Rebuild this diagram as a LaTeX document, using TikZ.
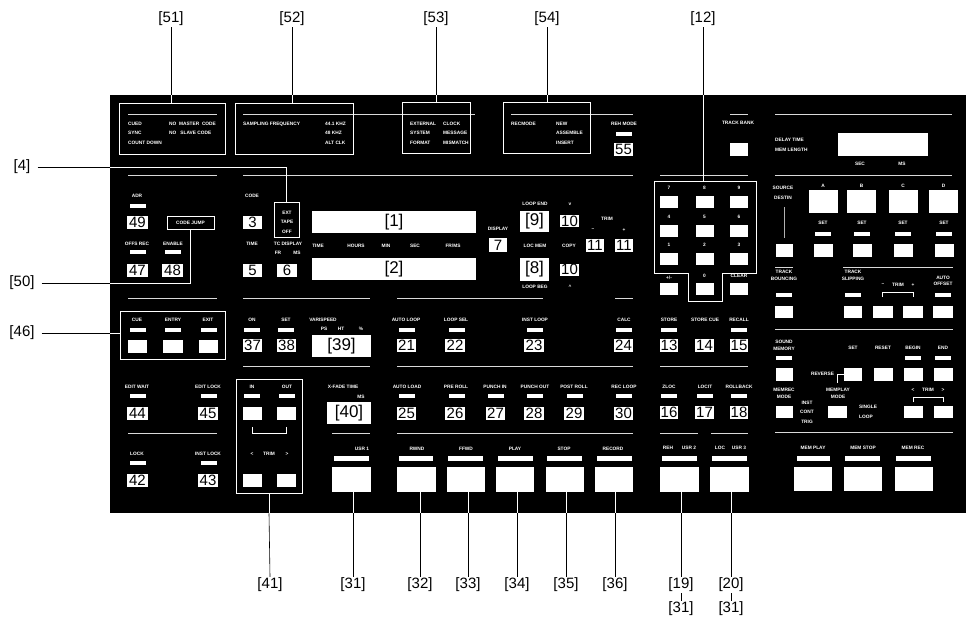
\documentclass[tikz,border=0pt]{standalone}
\usepackage{fontspec}
\setmainfont{Liberation Sans}
\usetikzlibrary{positioning}

\tikzset{
  txt/.style={text=white, font=\fontsize{4.8}{6.5}\selectfont\bfseries, inner sep=0pt, align=center},
  led/.style={fill=white, minimum width=16pt, minimum height=4pt, inner sep=0pt},
  btn/.style={fill=white, minimum width=19pt, minimum height=13pt, inner sep=0pt},
  bigbtn/.style={fill=white, minimum width=38pt, minimum height=25pt, inner sep=0pt},
  bar/.style={fill=white, minimum width=35pt, minimum height=5pt, inner sep=0pt},
  num/.style={fill=white, text=black, font=\fontsize{15}{15}\selectfont, minimum width=20pt, minimum height=13pt, inner sep=0pt},
  disp/.style={fill=white, text=black, font=\fontsize{17}{17}\selectfont, inner sep=0pt},
  frame/.style={draw=white, line width=0.9pt, inner sep=0pt},
  sep/.style={draw=white!85!black, line width=0.8pt},
  callout/.style={font=\fontsize{15}{15}\selectfont, inner sep=1pt},
  lead/.style={draw=black, line width=0.6pt},
  leadin/.style={draw=white, line width=0.6pt},
}

\begin{document}
\begin{tikzpicture}[x=1pt, y=-1pt]
        \useasboundingbox (0,0) rectangle (966,622);
        \node[fill=black, minimum width=856pt, minimum height=418pt, inner sep=0pt, anchor=north west] (panel) at (110,95) {};

        % separators
        \draw[sep] (128,114) -- (217,114);
        \draw[sep] (243,114) -- (475,114);
        \draw[sep] (511,114) -- (633,114);
        \draw[sep] (730,114) -- (748,114);
        \draw[sep] (775,114) -- (952,114);
        \draw[sep] (128,175) -- (217,175);
        \draw[sep] (243,175) -- (633,175);
        \draw[sep] (660,175) -- (748,175);
        \draw[sep] (775,175) -- (952,175);
        \draw[sep] (775,267) -- (793,267);
        \draw[sep] (843,267) -- (953,267);
        \draw[sep] (128,298) -- (217,298);
        \draw[sep] (243,298) -- (370,298);
        \draw[sep] (397,298) -- (543,298);
        \draw[sep] (615,298) -- (633,298);
        \draw[sep] (775,329) -- (953,329);
        \draw[sep] (243,366) -- (370,366);
        \draw[sep] (397,366) -- (633,366);
        \draw[sep] (660,366) -- (748,366);
        \draw[sep] (128,433) -- (217,433);
        \draw[sep] (332,433) -- (370,433);
        \draw[sep] (397,433) -- (633,433);
        \draw[sep] (660,433) -- (698,433);
        \draw[sep] (711,433) -- (748,433);
        \draw[sep] (775,432) -- (953,432);

        % status boxes
        \node[frame, minimum width=106pt, minimum height=51pt] (b51) at (172,128.5) {};
        \node[txt, anchor=west] (cued) at (128,124) {CUED};
        \node[txt, anchor=west] (nomaster) at (169,124) {NO\ \ MASTER\ \ CODE};
        \node[txt, anchor=west] (sync) at (128,133) {SYNC};
        \node[txt, anchor=west] (noslave) at (169,133) {NO\ \ \ SLAVE\ CODE};
        \node[txt, anchor=west] (count) at (128,143) {COUNT DOWN};

        \node[frame, minimum width=118pt, minimum height=51pt] (b52) at (294,128.5) {};
        \node[txt, anchor=west] (sampling) at (243,124) {SAMPLING FREQUENCY};
        \node[txt, anchor=west] (f441) at (325,124) {44.1 KHZ};
        \node[txt, anchor=west] (f48) at (325,133) {48 KHZ};
        \node[txt, anchor=west] (altclk) at (325,143) {ALT CLK};

        \node[frame, minimum width=68pt, minimum height=51pt] (b53) at (436,127.5) {};
        \node[txt, anchor=west] (external) at (410,124) {EXTERNAL};
        \node[txt, anchor=west] (clock) at (443,124) {CLOCK};
        \node[txt, anchor=west] (system) at (410,133) {SYSTEM};
        \node[txt, anchor=west] (message) at (443,133) {MESSAGE};
        \node[txt, anchor=west] (format) at (410,143) {FORMAT};
        \node[txt, anchor=west] (mismatch) at (443,143) {MISMATCH};

        \node[frame, minimum width=87pt, minimum height=51pt] (b54) at (546.5,127.5) {};
        \node[txt, anchor=west] (recmode) at (511,124) {RECMODE};
        \node[txt, anchor=west] (new) at (556,124) {NEW};
        \node[txt, anchor=west] (assemble) at (556,133) {ASSEMBLE};
        \node[txt, anchor=west] (insert) at (556,143) {INSERT};

        \node[txt] (rehmode) at (624,124) {REH MODE};
        \node[led] (rehled) at (624,134) {};
        \node[num, minimum width=19pt] (n55) at (623.5,149.5) {55};

        \node[txt] (trackbank) at (738,123) {TRACK BANK};
        \node[btn, minimum width=18pt] (tbbtn) at (739,149.5) {};
        \node[txt, anchor=west] (delay) at (775,140) {DELAY TIME};
        \node[txt, anchor=west] (memlen) at (775,150) {MEM LENGTH};
        \node[fill=white, minimum width=90pt, minimum height=23pt, inner sep=0pt] (delaydisp) at (883,144.5) {};
        \node[txt] (dsec) at (860,164) {SEC};
        \node[txt] (dms) at (902,164) {MS};

        % code / time code
        \node[txt] (adr) at (137,196) {ADR};
        \node[led] (adrled) at (138,206) {};
        \node[num, minimum width=21pt] (n49) at (137.5,222.5) {49};
        \node[frame, txt, minimum width=47pt, minimum height=13pt] (cj) at (190.5,222.5) {CODE JUMP};
        \node[txt] (offsrec) at (137,244) {OFFS REC};
        \node[led] (offsled) at (138,252) {};
        \node[num, minimum width=21pt] (n47) at (137.5,270) {47};
        \node[txt] (enable) at (173,244) {ENABLE};
        \node[led] (enled) at (173,252) {};
        \node[num, minimum width=21pt] (n48) at (172.5,270) {48};

        \node[txt] (code) at (252,196) {CODE};
        \node[num, minimum width=19pt] (n3) at (252.5,222.5) {3};
        \node[frame, minimum width=25pt, minimum height=35pt] (extbox) at (286.5,219.5) {};
        \node[txt] (ext) at (287,213) {EXT};
        \node[txt] (tape) at (287,222) {TAPE};
        \node[txt] (off) at (287,232) {OFF};
        \node[txt] (time) at (252,244) {TIME};
        \node[num, minimum width=19pt] (n5) at (252.5,270) {5};
        \node[txt] (tcdisp) at (288,244) {TC DISPLAY};
        \node[txt] (fr) at (278,253) {FR};
        \node[txt] (ms) at (297,253) {MS};
        \node[num] (n6) at (287,270) {6};

        \node[disp, minimum width=164pt, minimum height=22pt] (d1) at (394,222) {[1]};
        \node[txt] (htime) at (318,246) {TIME};
        \node[txt] (hours) at (356,246) {HOURS};
        \node[txt] (hmin) at (386,246) {MIN};
        \node[txt] (hsec) at (415,246) {SEC};
        \node[txt] (hfr) at (453,246) {FR/MS};
        \node[disp, minimum width=164pt, minimum height=22pt] (d2) at (394,269) {[2]};

        \node[txt] (display) at (498,229) {DISPLAY};
        \node[num, minimum width=18pt, minimum height=14pt] (n7) at (498,245) {7};
        \node[txt] (loopend) at (535,204) {LOOP END};
        \node[disp, minimum width=29pt, minimum height=21pt] (d9) at (534.5,221.5) {[9]};
        \node[txt] (up) at (570,204) {v};
        \node[num, minimum width=19pt, minimum height=12pt] (n10a) at (569.5,221) {10};
        \node[txt] (trim1) at (607,219) {TRIM};
        \node[txt] (trim1m) at (593,230) {–};
        \node[txt] (trim1p) at (624,230) {+};
        \node[txt] (locmem) at (535,246) {LOC MEM};
        \node[txt] (copy) at (569,246) {COPY};
        \node[num, minimum width=18pt] (n11a) at (595,245.5) {11};
        \node[num, minimum width=18pt] (n11b) at (624,245.5) {11};
        \node[disp, minimum width=29pt, minimum height=23pt] (d8) at (534.5,269.5) {[8]};
        \node[num, minimum width=19pt, minimum height=12pt] (n10b) at (569.5,269.5) {10};
        \node[txt] (loopbeg) at (535,287) {LOOP BEG};
        \node[txt] (down) at (570,287) {\textasciicircum};

        % keypad
        \coordinate (kp) at (703,181);
        \draw[draw=white, line width=0.9pt] (654,181) -- (756,181) -- (756,273) -- (722,273) -- (722,301)
            -- (688,301) -- (688,273) -- (654,273) -- cycle;
        \node[txt] (k7t) at (669,188) {7};
        \node[txt] (k8t) at (704.5,188) {8};
        \node[txt] (k9t) at (739,188) {9};
        \node[btn, minimum width=18pt, minimum height=12pt] (k7) at (669,202) {};
        \node[btn, minimum width=18pt, minimum height=12pt] (k8) at (704.5,202) {};
        \node[btn, minimum width=18pt, minimum height=12pt] (k9) at (739,202) {};
        \node[txt] (k4t) at (669,217) {4};
        \node[txt] (k5t) at (704.5,217) {5};
        \node[txt] (k6t) at (739,217) {6};
        \node[btn, minimum width=18pt, minimum height=12pt] (k4) at (669,230.5) {};
        \node[btn, minimum width=18pt, minimum height=12pt] (k5) at (704.5,230.5) {};
        \node[btn, minimum width=18pt, minimum height=12pt] (k6) at (739,230.5) {};
        \node[txt] (k1t) at (669,245) {1};
        \node[txt] (k2t) at (704.5,245) {2};
        \node[txt] (k3t) at (739,245) {3};
        \node[btn, minimum width=18pt, minimum height=12pt] (k1) at (669,258.5) {};
        \node[btn, minimum width=18pt, minimum height=12pt] (k2) at (704.5,258.5) {};
        \node[btn, minimum width=18pt, minimum height=12pt] (k3) at (739,258.5) {};
        \node[txt] (kpmt) at (669,278) {+/-};
        \node[txt] (k0t) at (704.5,276) {0};
        \node[txt] (kclt) at (739,276) {CLEAR};
        \node[btn, minimum width=18pt, minimum height=12pt] (kpm) at (669,289) {};
        \node[btn, minimum width=18pt, minimum height=12pt] (k0) at (704.5,289) {};
        \node[btn, minimum width=18pt, minimum height=12pt] (kcl) at (739,289) {};

        % source / destination
        \node[txt] (source) at (783,188) {SOURCE};
        \node[txt] (destin) at (783,198) {DESTIN};
        \node[btn, minimum width=17pt] (srcbtn) at (784.5,250.5) {};
        \draw[draw=white!70!black, line width=0.8pt, shorten <=7pt, shorten >=6pt] (destin.south -| srcbtn) -- (srcbtn.north);
        \node[txt] (ta) at (823,186) {A};
        \node[txt] (tb) at (861.5,186) {B};
        \node[txt] (tc) at (903,186) {C};
        \node[txt] (td) at (943.5,186) {D};
        \node[btn, minimum width=29pt, minimum height=23pt] (ba) at (823,201.5) {};
        \node[btn, minimum width=29pt, minimum height=23pt] (bb) at (861.5,201.5) {};
        \node[btn, minimum width=29pt, minimum height=23pt] (bc) at (903,201.5) {};
        \node[btn, minimum width=29pt, minimum height=23pt] (bd) at (943.5,201.5) {};
        \node[txt] (seta) at (823,223) {SET};
        \node[txt] (setb) at (862,223) {SET};
        \node[txt] (setc) at (903,223) {SET};
        \node[txt] (setd) at (944,223) {SET};
        \node[led] (leda) at (823,234) {};
        \node[led] (ledb) at (862,234) {};
        \node[led] (ledc) at (903,234) {};
        \node[led] (ledd) at (944,234) {};
        \node[btn] (bseta) at (823,250.5) {};
        \node[btn] (bsetb) at (862,250.5) {};
        \node[btn] (bsetc) at (903,250.5) {};
        \node[btn] (bsetd) at (944,250.5) {};

        % track bouncing / slipping
        \node[txt] (bouncing) at (784,275.5) {TRACK\\BOUNCING};
        \node[led] (bncled) at (784,295) {};
        \node[btn, minimum width=18pt, minimum height=12pt] (bncbtn) at (784,312) {};
        \node[txt] (slipping) at (853,275.5) {TRACK\\SLIPPING};
        \node[led] (slpled) at (853,295) {};
        \node[btn, minimum width=18pt, minimum height=12pt] (slpbtn) at (853,312) {};
        \node[txt] (trim2m) at (883,285) {–};
        \node[txt] (trim2) at (898,285) {TRIM};
        \node[txt] (trim2p) at (913,285) {+};
        \draw[draw=white, line width=0.6pt] (882,297) -- (882,292) -- (913,292) -- (913,297);
        \node[btn, minimum width=20pt, minimum height=12pt] (trim2mb) at (883,312) {};
        \node[btn, minimum width=20pt, minimum height=12pt] (trim2pb) at (913,312) {};
        \node[txt] (autooff) at (943,281) {AUTO\\OFFSET};
        \node[led] (aoled) at (943,295) {};
        \node[btn, minimum width=20pt, minimum height=12pt] (aobtn) at (943,312) {};

        % sound memory
        \node[txt] (soundmem) at (784,345.5) {SOUND\\MEMORY};
        \node[led] (smled) at (784,357.5) {};
        \node[btn, minimum width=17pt] (smbtn) at (784.5,374.5) {};
        \node[txt] (mset) at (853,348) {SET};
        \node[btn, minimum width=18pt] (msetb) at (853,374.5) {};
        \node[txt] (mreset) at (883,348) {RESET};
        \node[btn, minimum width=19pt] (mresetb) at (883.5,374.5) {};
        \node[txt] (mbegin) at (913,348) {BEGIN};
        \node[led] (mbegled) at (913,357.5) {};
        \node[btn, minimum width=19pt] (mbeginb) at (913.5,374.5) {};
        \node[txt] (mend) at (943,348) {END};
        \node[led] (mendled) at (943,357.5) {};
        \node[btn, minimum width=19pt] (mendb) at (943.5,374.5) {};
        \node[txt] (reverse) at (822.5,374) {REVERSE};
        \draw[draw=white, line width=0.6pt] (msetb.west |- reverse) -- (837,374) -- (837,383);
        \node[txt] (memrec) at (784,393.5) {MEMREC\\MODE};
        \node[btn, minimum width=17pt, minimum height=12pt] (memrecb) at (784.5,412) {};
        \node[txt] (inst) at (807,403) {INST};
        \node[txt] (cont) at (807,412) {CONT};
        \node[txt] (trig) at (807,422) {TRIG};
        \node[txt] (memplay) at (838,393.5) {MEMPLAY\\MODE};
        \node[btn, minimum width=19pt, minimum height=12pt] (memplayb) at (837.5,412) {};
        \node[txt, anchor=west] (single) at (859,407) {SINGLE};
        \node[txt, anchor=west] (loop) at (859,417) {LOOP};
        \node[txt] (trim3m) at (913,390) {<};
        \node[txt] (trim3) at (928,390) {TRIM};
        \node[txt] (trim3p) at (943,390) {>};
        \draw[draw=white, line width=0.6pt] (913,402) -- (913,397) -- (943,397) -- (943,402);
        \node[btn, minimum height=12pt] (trim3mb) at (913.5,412) {};
        \node[btn, minimum height=12pt] (trim3pb) at (943.5,412) {};

        \node[txt] (memplayt) at (813,448) {MEM PLAY};
        \node[bar, minimum width=33pt] (memplaybar) at (813.5,458.5) {};
        \node[bigbtn, minimum height=24pt] (memplaybtn) at (813,479) {};
        \node[txt] (memstopt) at (863,448) {MEM STOP};
        \node[bar] (memstopbar) at (862.5,458.5) {};
        \node[bigbtn, minimum height=24pt] (memstopbtn) at (863,479) {};
        \node[txt] (memrect) at (913,448) {MEM REC};
        \node[bar] (memrecbar) at (913,458.5) {};
        \node[bigbtn, minimum height=24pt] (memrecbtn) at (914,479) {};

        % locate
        \node[txt] (store) at (669,320) {STORE};
        \node[led] (storeled) at (669,330) {};
        \node[num, minimum width=18pt] (n13) at (669,345.5) {13};
        \node[txt] (storecue) at (705,320) {STORE CUE};
        \node[num, minimum width=19pt] (n14) at (704.5,345.5) {14};
        \node[txt] (recall) at (739,320) {RECALL};
        \node[led] (recled) at (739,330) {};
        \node[num, minimum width=18pt] (n15) at (739,345.5) {15};
        \node[txt] (zloc) at (669,387) {ZLOC};
        \node[led] (zlocled) at (669,396) {};
        \node[num, minimum width=18pt] (n16) at (669,412.5) {16};
        \node[txt] (locit) at (705,387) {LOCIT};
        \node[led] (locitled) at (705,396) {};
        \node[num, minimum width=19pt] (n17) at (704.5,412.5) {17};
        \node[txt] (rollback) at (739,387) {ROLLBACK};
        \node[led] (rollled) at (739,396) {};
        \node[num, minimum width=18pt] (n18) at (739,412.5) {18};
        \node[txt] (reh) at (668,448) {REH};
        \node[txt] (usr2) at (689,448) {USR 2};
        \node[bar] (rehbar) at (679.5,458.5) {};
        \node[bigbtn, minimum width=39pt] (rehbtn) at (679.5,479.5) {};
        \node[txt] (loc) at (720,448) {LOC};
        \node[txt] (usr3) at (739,448) {USR 3};
        \node[bar] (locbar) at (729.5,458.5) {};
        \node[bigbtn, minimum width=39pt] (locbtn) at (729.5,479.5) {};

        % loop / punch
        \node[txt] (autoloop) at (406,320) {AUTO LOOP};
        \node[led] (alled) at (406.5,330) {};
        \node[num, minimum width=19pt] (n21) at (406.5,345.5) {21};
        \node[txt] (loopsel) at (456,320) {LOOP SEL};
        \node[led] (lsled) at (456.5,330) {};
        \node[num] (n22) at (455,345.5) {22};
        \node[txt] (instloop) at (535,320) {INST LOOP};
        \node[led] (illed) at (535,330) {};
        \node[num] (n23) at (534,345.5) {23};
        \node[txt] (calc) at (624,320) {CALC};
        \node[led] (calcled) at (624,330) {};
        \node[num, minimum width=19pt] (n24) at (623.5,345.5) {24};
        \node[txt] (autoload) at (407,387) {AUTO LOAD};
        \node[led] (aldled) at (406.5,396) {};
        \node[num, minimum width=19pt] (n25) at (406.5,413.5) {25};
        \node[txt] (preroll) at (456,387) {PRE ROLL};
        \node[led] (prled) at (456.5,396) {};
        \node[num] (n26) at (455,413.5) {26};
        \node[txt] (punchin) at (495,387) {PUNCH IN};
        \node[led] (piled) at (495.5,396) {};
        \node[num, minimum width=19pt] (n27) at (495.5,413.5) {27};
        \node[txt] (punchout) at (535,387) {PUNCH OUT};
        \node[led] (poled) at (535,396) {};
        \node[num] (n28) at (534,413.5) {28};
        \node[txt] (postroll) at (574,387) {POST ROLL};
        \node[led] (psled) at (574.5,396) {};
        \node[num] (n29) at (574,413.5) {29};
        \node[txt] (recloop) at (624,387) {REC LOOP};
        \node[led] (rlled) at (624,396) {};
        \node[num, minimum width=19pt] (n30) at (623.5,413.5) {30};

        % transport
        \node[txt] (rwnd) at (417,449) {RWND};
        \node[bar, minimum width=34pt] (rwndbar) at (416,458.5) {};
        \node[bigbtn, minimum width=39pt] (rwndbtn) at (416.5,479.5) {};
        \node[txt] (ffwd) at (466,449) {FFWD};
        \node[bar] (ffwdbar) at (465.5,458.5) {};
        \node[bigbtn] (ffwdbtn) at (466,479.5) {};
        \node[txt] (play) at (515,449) {PLAY};
        \node[bar] (playbar) at (515,458.5) {};
        \node[bigbtn] (playbtn) at (515,479.5) {};
        \node[txt] (stop) at (564,449) {STOP};
        \node[bar] (stopbar) at (564.5,458.5) {};
        \node[bigbtn] (stopbtn) at (564.5,479.5) {};
        \node[txt] (record) at (613,449) {RECORD};
        \node[bar] (recordbar) at (614,458.5) {};
        \node[bigbtn] (recordbtn) at (614,479.5) {};

        % edit section
        \node[frame, minimum width=105pt, minimum height=48pt] (cuebox) at (172.5,335) {};
        \node[txt] (cue) at (137,320) {CUE};
        \node[led] (cueled) at (138,330) {};
        \node[btn] (cuebtn) at (137.5,346.5) {};
        \node[txt] (entry) at (173,320) {ENTRY};
        \node[led] (entled) at (173,330) {};
        \node[btn, minimum width=20pt] (entbtn) at (173,346.5) {};
        \node[txt] (exit) at (208,320) {EXIT};
        \node[led] (exled) at (208.5,330) {};
        \node[btn] (exbtn) at (208.5,346.5) {};
        \node[txt] (vson) at (252,320) {ON};
        \node[led] (vsonled) at (252,330) {};
        \node[num, minimum width=19pt] (n37) at (252.5,345.5) {37};
        \node[txt] (vsset) at (286,320) {SET};
        \node[led] (vssetled) at (286,330) {};
        \node[num, minimum width=19pt] (n38) at (286.5,345.5) {38};
        \node[txt] (varispeed) at (323,320) {VARISPEED};
        \node[txt] (ps) at (324,329) {PS};
        \node[txt] (ht) at (341,329) {HT};
        \node[txt] (pct) at (361,329) {\%};
        \node[disp, minimum width=59pt, minimum height=22pt] (d39) at (341.5,346) {[39]};

        \node[txt] (editwait) at (137,387) {EDIT WAIT};
        \node[led] (ewled) at (138,396) {};
        \node[num, minimum width=21pt] (n44) at (137.5,413.5) {44};
        \node[txt] (editlock) at (208,387) {EDIT LOCK};
        \node[led] (elled) at (208.5,396) {};
        \node[num] (n45) at (208,413.5) {45};
        \node[txt] (lock) at (137,454) {LOCK};
        \node[led] (lkled) at (138,463) {};
        \node[num, minimum width=21pt] (n42) at (137.5,480) {42};
        \node[txt] (instlock) at (208,454) {INST LOCK};
        \node[led] (ilkled) at (208.5,463) {};
        \node[num] (n43) at (208,480) {43};

        \node[frame, minimum width=66pt, minimum height=114pt] (iobox) at (269,436) {};
        \node[txt] (in) at (252,387) {IN};
        \node[led] (inled) at (252,396) {};
        \node[btn] (inbtn) at (252.5,413.5) {};
        \node[txt] (out) at (287,387) {OUT};
        \node[led] (outled) at (287,396) {};
        \node[btn] (outbtn) at (286.5,413.5) {};
        \draw[draw=white, line width=0.6pt] (252,427) -- (252,433) -- (286,433) -- (286,427);
        \node[txt] (trim4m) at (252,454) {<};
        \node[txt] (trim4) at (269,454) {TRIM};
        \node[txt] (trim4p) at (287,454) {>};
        \node[btn] (trim4mb) at (252.5,480) {};
        \node[btn] (trim4pb) at (286.5,480) {};

        \node[txt] (xfade) at (343,387) {X-FADE TIME};
        \node[txt] (xfms) at (361,397) {MS};
        \node[disp, minimum width=44pt, minimum height=22pt] (d40) at (349,413) {[40]};
        \node[txt] (usr1) at (362,449) {USR 1};
        \node[bar] (usr1bar) at (351.5,458.5) {};
        \node[bigbtn, minimum width=39pt] (usr1btn) at (351.5,479.5) {};

        % callouts
        \node[callout] (l51) at (171,19) {[51]};
        \node[callout] (l52) at (292,19) {[52]};
        \node[callout] (l53) at (436,19) {[53]};
        \node[callout] (l54) at (547,19) {[54]};
        \node[callout] (l12) at (703,19) {[12]};
        \node[callout] (l4) at (22,167) {[4]};
        \node[callout] (l50) at (22,283) {[50]};
        \node[callout] (l46) at (22,333) {[46]};
        \node[callout] (l41) at (270,585) {[41]};
        \node[callout] (l31) at (353,585) {[31]};
        \node[callout] (l32) at (420,585) {[32]};
        \node[callout] (l33) at (468,585) {[33]};
        \node[callout] (l34) at (517,585) {[34]};
        \node[callout] (l35) at (566,585) {[35]};
        \node[callout] (l36) at (615,585) {[36]};
        \node[callout] (l19) at (681,585) {[19]};
        \node[callout] (l20) at (731,585) {[20]};
        \node[callout] (l19b) at (681,609) {[31]};
        \node[callout] (l20b) at (731,609) {[31]};

        \draw[lead] (l51) -- (l51 |- panel.north);
        \draw[leadin] (l51 |- panel.north) -- (l51 |- b51.north);
        \draw[lead] (l52) -- (l52 |- panel.north);
        \draw[leadin] (l52 |- panel.north) -- (l52 |- b52.north);
        \draw[lead] (l53) -- (l53 |- panel.north);
        \draw[leadin] (l53 |- panel.north) -- (l53 |- b53.north);
        \draw[lead] (l54) -- (l54 |- panel.north);
        \draw[leadin] (l54 |- panel.north) -- (l54 |- b54.north);
        \draw[lead] (l12) -- (l12 |- panel.north);
        \draw[leadin] (l12 |- panel.north) -- (kp);

        \draw[lead] ([xshift=6pt]l4.east) -- (l4.east -| panel.west);
        \draw[leadin] (l4.east -| panel.west) -| (extbox.north);
        \draw[lead] ([xshift=6pt]l50.east) -- (l50.east -| panel.west);
        \draw[leadin] (l50.east -| panel.west) -| (cj.south);
        \draw[lead] ([xshift=6pt]l46.east) -- (l46.east -| panel.west);
        \draw[leadin] (l46.east -| panel.west) -- (l46.east -| cuebox.west);

        \draw[leadin] (iobox.south) -- (iobox.south |- panel.south);
        \draw[lead] (iobox.south |- panel.south) -- (l41.north);
        \draw[leadin] (l31 |- usr1btn.south) -- (l31 |- panel.south);
        \draw[lead] (l31 |- panel.south) -- (l31.north);
        \draw[leadin] (l32 |- rwndbtn.south) -- (l32 |- panel.south);
        \draw[lead] (l32 |- panel.south) -- (l32.north);
        \draw[leadin] (l33 |- ffwdbtn.south) -- (l33 |- panel.south);
        \draw[lead] (l33 |- panel.south) -- (l33.north);
        \draw[leadin] (l34 |- playbtn.south) -- (l34 |- panel.south);
        \draw[lead] (l34 |- panel.south) -- (l34.north);
        \draw[leadin] (l35 |- stopbtn.south) -- (l35 |- panel.south);
        \draw[lead] (l35 |- panel.south) -- (l35.north);
        \draw[leadin] (l36 |- recordbtn.south) -- (l36 |- panel.south);
        \draw[lead] (l36 |- panel.south) -- (l36.north);
        \draw[leadin] (l19 |- rehbtn.south) -- (l19 |- panel.south);
        \draw[lead] (l19 |- panel.south) -- (l19.north);
        \draw[leadin] (l20 |- locbtn.south) -- (l20 |- panel.south);
        \draw[lead] (l20 |- panel.south) -- (l20.north);
        \draw[lead] (l19.south) -- (l19b.north);
        \draw[lead] (l20.south) -- (l20b.north);
    \end{tikzpicture}
\end{document}
